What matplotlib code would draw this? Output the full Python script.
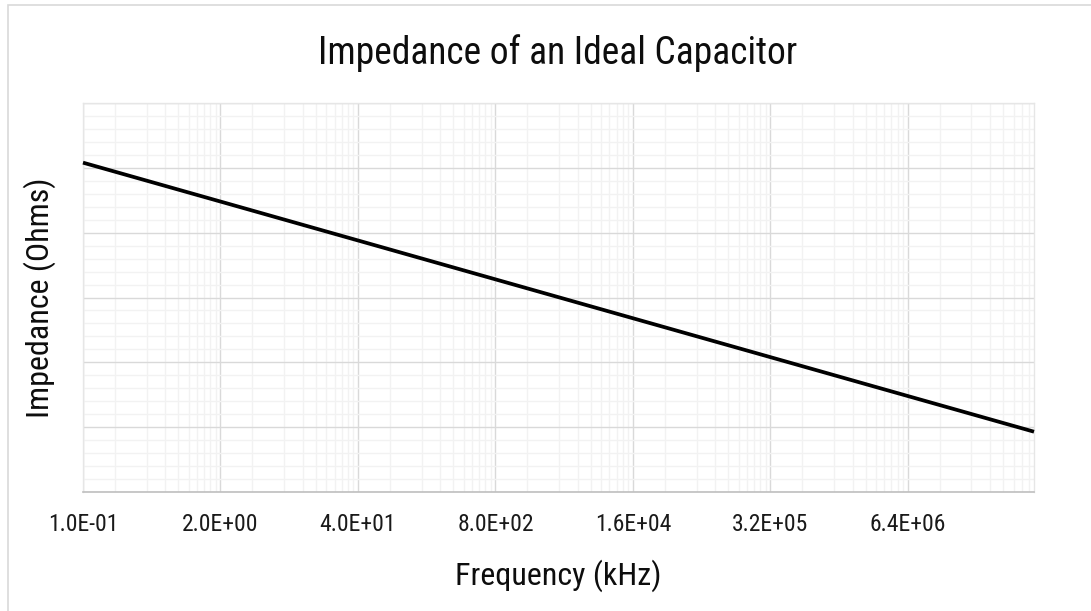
"""Impedance of an ideal capacitor, redrawn in the Excel look."""

import matplotlib
matplotlib.use("Agg")
import matplotlib.pyplot as plt
from matplotlib.patches import Rectangle
from matplotlib.ticker import FixedLocator, FuncFormatter, NullFormatter

plt.rcParams["font.family"] = ["Roboto Condensed", "Roboto", "DejaVu Sans"]

# values (y is in the chart's own unlabeled units)
freq_khz = [0.1, 2.0, 40.0, 800.0, 1.6e4, 3.2e5, 6.4e6, 1.0e8]
impedance = [5.08, 4.48, 3.88, 3.28, 2.68, 2.08, 1.48, 0.93]
x_ticks = [0.1, 2.0, 40.0, 800.0, 1.6e4, 3.2e5, 6.4e6]

W, H = 1091, 611
fig = plt.figure(figsize=(W / 100, H / 100), dpi=100)
ax = fig.add_axes([83 / W, 1 - 492 / H, (1034 - 83) / W, (492 - 103) / H])

# chart border (only the top and left edges fall inside the frame)
fig.patches.append(Rectangle((8 / W, -0.1), 1.2, 1 - 5 / H + 0.1,
                             transform=fig.transFigure, fill=False,
                             edgecolor="#d9d9d9", linewidth=1.2, zorder=-5))

ax.set_xscale("log", base=20)
ax.set_xlim(0.1, 1.0e8)
ax.set_ylim(0, 6)

# minor gridlines at even multiples inside each base-20 step
minor_x = [t * k for t in x_ticks for k in range(2, 20, 2) if t * k < 1.0e8]
ax.xaxis.set_major_locator(FixedLocator(x_ticks))
ax.xaxis.set_minor_locator(FixedLocator(minor_x))
ax.xaxis.set_major_formatter(FuncFormatter(lambda v, _: f"{v:.1E}"))
ax.xaxis.set_minor_formatter(NullFormatter())

ax.yaxis.set_major_locator(FixedLocator([0, 1, 2, 3, 4, 5, 6]))
ax.yaxis.set_minor_locator(FixedLocator([i / 5 for i in range(31)]))
ax.yaxis.set_major_formatter(NullFormatter())

ax.grid(which="minor", color="#f2f2f2", linewidth=1.0, zorder=0)
ax.grid(which="major", color="#d9d9d9", linewidth=1.0, zorder=1)
ax.set_axisbelow(True)

ax.tick_params(which="both", length=0)
ax.tick_params(axis="x", labelsize=17, pad=15, labelcolor="#1a1a1a")

for side in ("top", "right", "left"):
    ax.spines[side].set_color("#e6e6e6")
    ax.spines[side].set_linewidth(1.0)
ax.spines["bottom"].set_color("#bfbfbf")
ax.spines["bottom"].set_linewidth(1.2)

ax.plot(freq_khz, impedance, color="black", linewidth=2.7, zorder=3,
        solid_capstyle="butt", clip_on=False)

ax.set_xlabel("Frequency (kHz)", fontsize=23, color="#0d0d0d", labelpad=17)
ax.set_ylabel("Impedance (Ohms)", fontsize=23, color="#0d0d0d", labelpad=16)
fig.text(558 / W, 1 - 53 / H, "Impedance of an Ideal Capacitor",
         fontsize=27, color="#0d0d0d", ha="center", va="center")

fig.savefig("out.png", dpi=100, facecolor="white")
